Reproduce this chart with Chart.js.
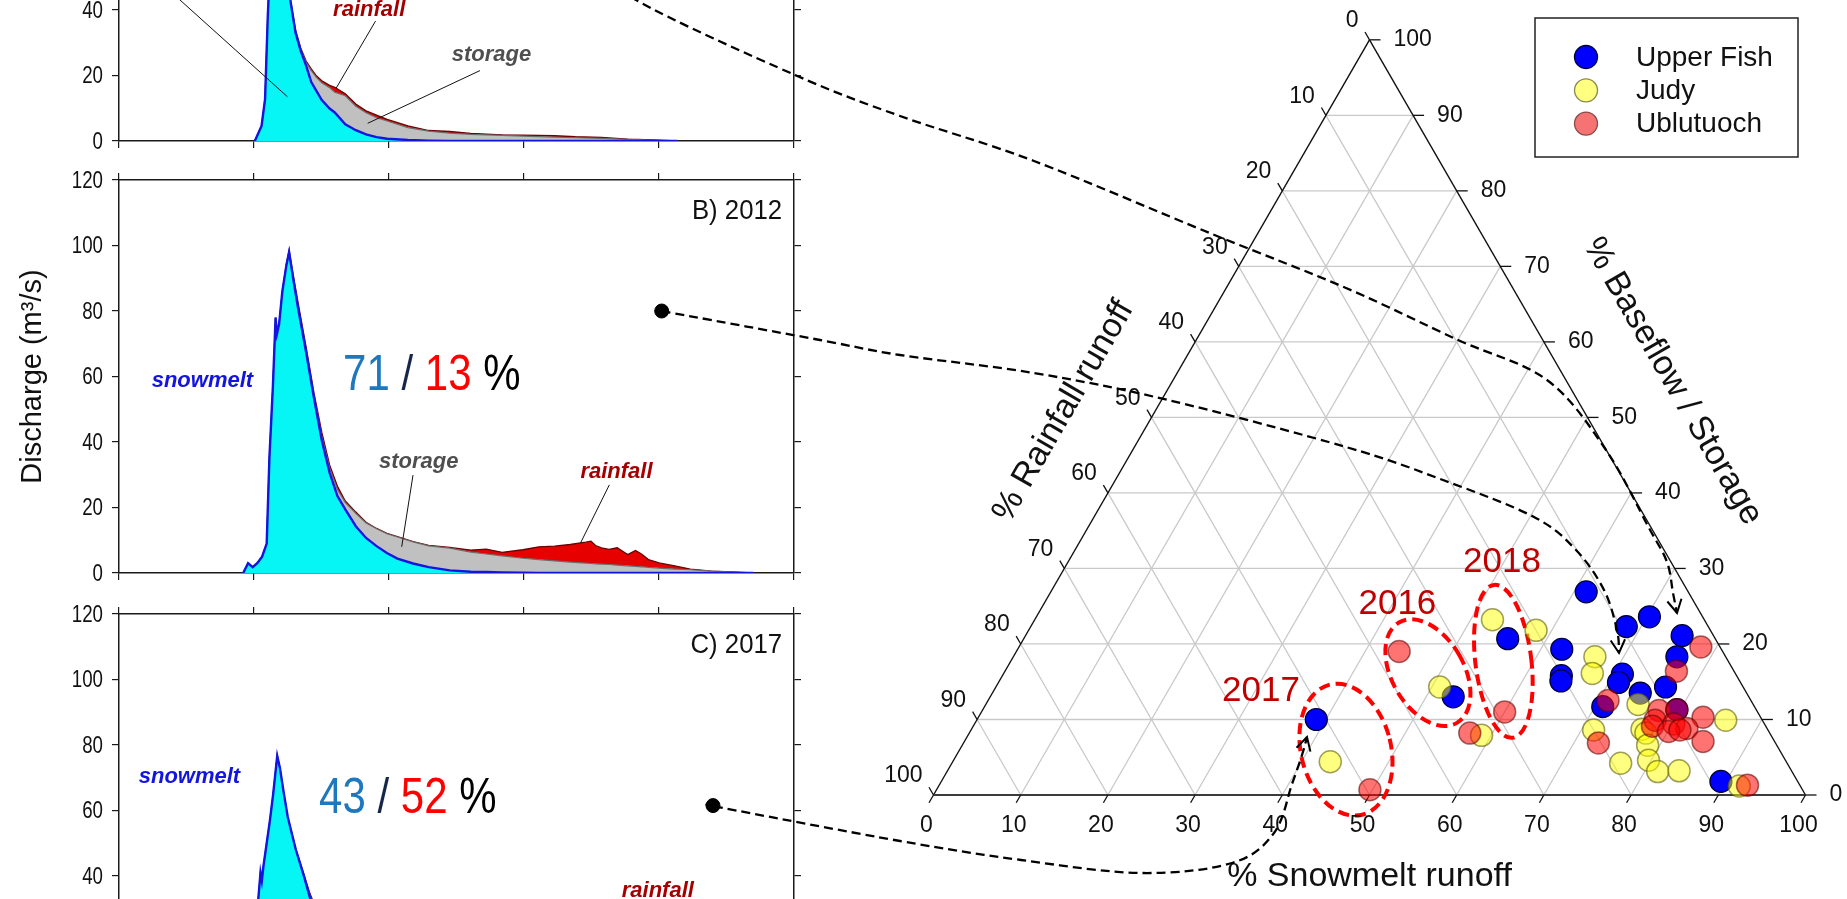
<!DOCTYPE html>
<html>
<head>
<meta charset="utf-8">
<title>Runoff components and ternary partition</title>
<script src="https://cdn.jsdelivr.net/npm/chart.js@4.4.1/dist/chart.umd.min.js"></script>
<style>
  html, body { margin: 0; padding: 0; background: #fff; }
  #page { position: relative; width: 1847px; height: 899px; overflow: hidden; background: #fff; }
  #page canvas { position: absolute; }
  #overlay { pointer-events: none; z-index: 10; }
</style>
</head>
<body>
<div id="page">
  <canvas id="panelA"></canvas>
  <canvas id="panelB"></canvas>
  <canvas id="panelC"></canvas>
  <canvas id="ternary"></canvas>
  <canvas id="overlay"></canvas>
</div>
<script>
// ---------------- Hydrograph data (day of year, discharge components in m3/s) ----------------
const DAYS_A = [150.3, 152.8, 154.1, 155.1, 156.0, 157.0, 158.0, 159.5, 161.0, 163.4, 165.4, 167.3, 169.3, 171.2,
  173.1, 175.1, 178.0, 179.9, 183.8, 187.7, 191.5, 195.4, 199.3, 207.0, 214.7, 222.5, 230.3, 241.9, 249.6, 261.3,
  269.0, 278.7, 288.4, 298.0, 306.8];
const SNOWMELT_A = [0, 4.6, 12.8, 38, 55, 64, 66, 62, 54, 43.3, 33, 27.5, 23, 18,
  15.3, 12.5, 9.9, 8.7, 5.1, 3.3, 2.0, 1.2, 0.7, 0.3, 0.1, 0, 0, 0, 0, 0,
  0, 0, 0, 0, 0];
const STORAGE_A = [0, 0, 0, 0, 0, 0, 0, 0, 0.1, 0.1, 0.5, 0.5, 1.0, 3.5,
  4.1, 5.3, 6.4, 6.2, 8.7, 7.3, 6.6, 5.9, 5.4, 3.8, 2.9, 2.4, 2.0, 1.7, 1.5, 1.2,
  1.0, 0.8, 0.5, 0.2, 0];
const RAINFALL_A = [0, 0, 0, 0, 0, 0, 0.2, 0.3, 0.3, 0.2, 0.3, 0.4, 0.4, 0.5,
  0.5, 0.6, 0.7, 1.5, 0.6, 0.7, 0.6, 0.8, 0.5, 0.5, 0.2, 0.5, 0.3, 0.2, 0.3, 0.4,
  0.3, 0.3, 0.1, 0.1, 0];

const DAYS_B = [146.0, 147.8, 149.5, 151.2, 153.0, 154.7, 155.7, 157.0, 158.0, 158.5, 159.3, 160.5, 162.0, 163.0,
  164.5, 166.3, 169.3, 172.2, 175.1, 178.0, 180.9, 183.8, 187.7, 191.5, 195.4, 199.2, 203.1, 208.9, 214.7, 222.5,
  230.3, 236.0, 241.9, 249.6, 255.5, 261.3, 267.1, 272.9, 274.8, 276.5, 278.7, 281.5, 284.5, 288.4, 291.3, 293.5,
  296.1, 300.0, 305.8, 311.6, 319.4, 327.0, 334.8];
const SNOWMELT_B = [0, 3, 1.8, 3, 5, 9, 35, 57, 78, 73, 76, 86, 94, 98,
  90, 81, 67.5, 53.5, 40.5, 30.6, 23.5, 19.4, 14.3, 10.7, 8.2, 6.1, 4.4, 2.9, 1.8, 0.8,
  0.4, 0.3, 0.2, 0.1, 0, 0, 0, 0, 0, 0, 0, 0, 0, 0, 0, 0,
  0, 0, 0, 0, 0, 0, 0];
const STORAGE_B = [0, 0, 0, 0, 0, 0, 0, 0, 0, 0, 0, 0, 0, 0,
  0, 0, 0.3, 0.5, 1.2, 1.4, 2.0, 2.1, 3.9, 4.6, 5.3, 5.9, 6.6, 6.6, 6.5, 6.8,
  6.0, 5.5, 5.0, 4.4, 4.1, 3.7, 3.3, 3.0, 2.9, 2.8, 2.7, 2.6, 2.4, 2.2, 2.0, 1.9,
  1.7, 1.5, 1.2, 1.0, 0.6, 0.3, 0];
const RAINFALL_B = [0, 0, 0, 0, 0, 0, 0, 0, 0, 0, 0, 0, 0.3, 0.5,
  1.0, 1.6, 1.2, 1.0, 1.3, 1.0, 1.0, 0.5, 0.4, 0.2, 0.1, 0.1, 0.1, 0.1, 0.1, 0.2,
  0.6, 1.5, 1.1, 2.6, 3.9, 4.5, 5.4, 6.4, 6.8, 5.6, 5.0, 4.6, 5.3, 3.4, 4.9, 3.9,
  2.4, 1.6, 1.0, 0.2, 0, 0, 0];

const DAYS_C = [148.0, 150.0, 151.6, 152.4, 152.9, 153.5, 154.7, 155.9, 157.1, 158.6, 159.6, 160.9, 162.5, 164.0,
  165.5, 167.0, 168.3, 169.5, 170.7, 173.0, 176.0, 180.0, 185.0, 190.0, 200.0, 215.0, 230.0, 245.0, 260.0, 270.0,
  280.0, 290.0, 300.0, 310.0, 320.0, 330.0];
const SNOWMELT_C = [0, 8, 33, 41, 38.5, 43, 50, 57, 65, 76.7, 73, 66, 58, 53,
  48, 44, 40.5, 37, 33.5, 27.5, 21, 14, 8, 5, 2, 0.5, 0.1, 0, 0, 0,
  0, 0, 0, 0, 0, 0];
const STORAGE_C = [0, 0, 0, 0, 0, 0, 0, 0, 0, 0, 0, 0, 0, 0,
  0, 0, 0.1, 0.3, 0.6, 1.2, 2, 3, 3.8, 4, 3.8, 3.2, 2.6, 2.1, 1.7, 1.5,
  1.3, 1.1, 0.8, 0.5, 0.2, 0];
const RAINFALL_C = [0, 0, 0, 0, 0, 0, 0, 0, 0, 0, 0, 0, 0, 0.1,
  0.2, 0.3, 0.4, 0.5, 0.6, 1.2, 2, 3, 4, 5, 6, 7, 9, 11, 14, 17,
  20, 24, 16, 6, 2, 0];

// Year markers that lead to the ternary diagram [day, discharge]
const MARKER_A = [270, 58];
const MARKER_B = [301, 80];
const MARKER_C = [320, 61.5];

const DISCHARGE_TICK_STEP = 20;
const DAY_TICK_STEP = 50;

// ---------------- Ternary data (% snowmelt, % rainfall, % baseflow/storage) ----------------
const UPPER_FISH_SNOW = [61.4, 70.3, 68.3, 75.3, 55.5, 62.4, 76.1, 71.0, 64.1, 64.4, 71.1, 76.8, 74.3, 70.9, 53.1, 89.4, 79.6, 38.9];
const UPPER_FISH_RAIN = [11.7, 6.1, 9.4, 3.6, 23.8, 18.3, 5.6, 13.0, 20.1, 20.5, 14.0, 8.9, 12.2, 17.4, 33.9, 8.8, 9.1, 51.1];
const UPPER_FISH_BASE = [26.9, 23.6, 22.3, 21.1, 20.7, 19.3, 18.3, 16.0, 15.8, 15.1, 14.9, 14.3, 13.5, 11.7, 13.0, 1.8, 11.3, 10.0];

const JUDY_SNOW = [52.5, 58.2, 66.7, 67.5, 50.9, 74.8, 85.9, 58.9, 71.4, 76.9, 77.6, 78.6, 76.7, 79.7, 81.5, 83.9, 91.8, 43.3];
const JUDY_RAIN = [24.3, 20.0, 15.0, 16.4, 34.8, 13.2, 4.2, 33.2, 20.0, 14.4, 14.2, 14.8, 19.1, 15.7, 15.4, 12.9, 7.0, 52.3];
const JUDY_BASE = [23.2, 21.8, 18.3, 16.1, 14.3, 12.0, 9.9, 7.9, 8.6, 8.7, 8.2, 6.6, 4.2, 4.6, 3.1, 3.2, 1.2, 4.4];

const UBLUTUOCH_SNOW = [78.2, 77.0, 71.1, 60.0, 57.4, 77.6, 79.6, 83.1, 77.8, 77.9, 80.2, 82.0, 80.1, 81.3, 84.7, 72.8, 92.7, 43.9, 49.7];
const UBLUTUOCH_RAIN = [2.2, 6.6, 16.4, 29.0, 34.4, 11.2, 9.1, 6.6, 12.3, 13.0, 10.4, 9.2, 11.5, 10.1, 8.2, 20.3, 6.0, 37.1, 49.6];
const UBLUTUOCH_BASE = [19.6, 16.4, 12.5, 11.0, 8.2, 11.2, 11.3, 10.3, 9.9, 9.1, 9.4, 8.8, 8.4, 8.6, 7.1, 6.9, 1.3, 19.0, 0.7];

const TERNARY_TICKS = [0, 10, 20, 30, 40, 50, 60, 70, 80, 90, 100];

// ---------------- Fonts and layout ----------------
const SANS = "'Liberation Sans', Arial, sans-serif";

const PANEL = { width: 830, left: 119, right: 794, plotH: 393, pad: 20 };
const PANEL_TOP = { A: -252, B: 180, C: 614 };   // page y of the 120 m3/s line

const TERN_CANVAS = { left: 830, width: 1017, height: 899 };
const TRI = { left: 103.5, width: 872, base: 795 };   // triangle placement inside its canvas
const TRI_H = TRI.width * Math.sqrt(3) / 2;

const SNOW_COLOR = '#1414e0';
const STORE_COLOR = '#4f4f4f';
const RAIN_COLOR = '#a50000';

// Condensed (narrow) text: regular face squeezed horizontally
function narrowText(ctx, text, x, y, align, squeeze) {
  ctx.save();
  ctx.translate(x, y);
  ctx.scale(squeeze, 1);
  ctx.textAlign = align;
  ctx.fillText(text, 0, 0);
  ctx.restore();
}

// ---------------- Hydrograph panels ----------------
function notesPlugin(notes) {
  return {
    id: 'panelNotes',
    afterDatasetsDraw(chart) {
      const { ctx } = chart;
      const x = chart.scales.x, y = chart.scales.y;
      ctx.save();
      // discharge tick labels in a narrow face
      ctx.font = '24px ' + SANS;
      ctx.fillStyle = '#111';
      ctx.textBaseline = 'middle';
      y.ticks.forEach(t => {
        narrowText(ctx, String(t.value), chart.chartArea.left - 16, y.getPixelForValue(t.value) + 1, 'right', 0.78);
      });
      ctx.strokeStyle = '#111';
      ctx.lineWidth = 1;
      (notes.leaders || []).forEach(([d1, v1, d2, v2]) => {
        ctx.beginPath();
        ctx.moveTo(x.getPixelForValue(d1), y.getPixelForValue(v1));
        ctx.lineTo(x.getPixelForValue(d2), y.getPixelForValue(v2));
        ctx.stroke();
      });
      ctx.textBaseline = 'alphabetic';
      (notes.texts || []).forEach(n => {
        ctx.font = n.font;
        ctx.fillStyle = n.color;
        narrowText(ctx, n.t, x.getPixelForValue(n.d), y.getPixelForValue(n.v), n.align || 'left', n.squeeze || 1);
      });
      if (notes.share) {
        const s = notes.share;
        ctx.font = s.font;
        let px = x.getPixelForValue(s.d);
        const py = y.getPixelForValue(s.v);
        s.parts.forEach(p => {
          ctx.fillStyle = p.c;
          narrowText(ctx, p.t, px, py, 'left', s.squeeze);
          px += ctx.measureText(p.t).width * s.squeeze;
        });
      }
      ctx.restore();
    }
  };
}

function frameAxis(position, extra) {
  const horizontal = position === 'top' || position === 'bottom';
  return Object.assign({
    type: 'linear',
    position,
    min: horizontal ? 100 : 0,
    max: horizontal ? 350 : 120,
    ticks: { display: false, stepSize: horizontal ? DAY_TICK_STEP : DISCHARGE_TICK_STEP },
    grid: { drawOnChartArea: false, drawTicks: true, tickLength: 7, color: '#1a1a1a', lineWidth: 1.2 },
    border: { display: true, color: '#1a1a1a', width: 1.5 },
    afterFit(scale) {
      if (horizontal) scale.height = PANEL.pad;
      else scale.width = position === 'left' ? PANEL.left : PANEL.width - PANEL.right;
    }
  }, extra || {});
}

function makePanel(id, top, days, snow, store, rain, marker, notes, withTitle) {
  const cv = document.getElementById(id);
  cv.width = PANEL.width;
  cv.height = PANEL.plotH + 2 * PANEL.pad;
  cv.style.left = '0px';
  cv.style.top = (top - PANEL.pad) + 'px';
  const yAxis = frameAxis('left', {
    stacked: true,
    title: { display: !!withTitle, text: 'Discharge (m³/s)', color: '#111',
             padding: { top: 16, bottom: 0 }, font: { family: SANS, size: 29 } }
  });
  return new Chart(cv, {
    type: 'line',
    data: {
      labels: days,
      datasets: [
        { label: 'snowmelt', data: snow, fill: 'origin', backgroundColor: '#06f6f6',
          borderColor: SNOW_COLOR, borderWidth: 2.4, pointRadius: 0, tension: 0 },
        { label: 'storage', data: store, fill: '-1', backgroundColor: '#c0c0c0',
          borderColor: '#6c6c6c', borderWidth: 1.2, pointRadius: 0, tension: 0 },
        { label: 'rainfall', data: rain, fill: '-1', backgroundColor: '#e60000',
          borderColor: '#6e0000', borderWidth: 1.3, pointRadius: 0, tension: 0 },
        { label: 'year', data: [{ x: marker[0], y: marker[1] }], yAxisID: 'y2', showLine: false,
          fill: false, pointRadius: 7, pointBackgroundColor: '#000', pointBorderColor: '#000' }
      ]
    },
    options: {
      responsive: false,
      animation: false,
      devicePixelRatio: 1,
      events: [],
      layout: { padding: 0, autoPadding: false },
      plugins: { legend: { display: false }, tooltip: { enabled: false } },
      scales: {
        x: frameAxis('bottom'),
        x2: frameAxis('top'),
        y: yAxis,
        y2: frameAxis('right')
      }
    },
    plugins: [notesPlugin(notes)]
  });
}

const LABEL_FONT = 'italic bold 22px ' + SANS;
const TAG_FONT = '28px ' + SANS;
const SHARE_FONT = '50px ' + SANS;

const chartA = makePanel('panelA', PANEL_TOP.A, DAYS_A, SNOWMELT_A, STORAGE_A, RAINFALL_A, MARKER_A, {
  texts: [
    { t: 'rainfall', d: 179.3, v: 38.2, font: LABEL_FONT, color: RAIN_COLOR },
    { t: 'storage', d: 223.2, v: 24.4, font: LABEL_FONT, color: STORE_COLOR }
  ],
  leaders: [[195, 36.6, 180.4, 16.1], [233.7, 21.5, 192.1, 5.4], [118.9, 45.8, 162.4, 13.5]]
});

const chartB = makePanel('panelB', PANEL_TOP.B, DAYS_B, SNOWMELT_B, STORAGE_B, RAINFALL_B, MARKER_B, {
  texts: [
    { t: 'B) 2012', d: 345.6, v: 108, font: TAG_FONT, color: '#111', align: 'right', squeeze: 0.92 },
    { t: 'snowmelt', d: 112.1, v: 56.9, font: LABEL_FONT, color: SNOW_COLOR },
    { t: 'storage', d: 196.3, v: 32.0, font: LABEL_FONT, color: STORE_COLOR },
    { t: 'rainfall', d: 270.9, v: 28.9, font: LABEL_FONT, color: RAIN_COLOR }
  ],
  leaders: [[208.9, 29.9, 204.7, 8.0], [281.6, 26.9, 270.9, 9.1]],
  share: { d: 183.0, v: 55.9, font: SHARE_FONT, squeeze: 0.84, parts: [
    { t: '71', c: '#1e78be' }, { t: ' / ', c: '#15264a' }, { t: '13', c: '#ff0000' }, { t: ' %', c: '#000' }] }
}, true);

const chartC = makePanel('panelC', PANEL_TOP.C, DAYS_C, SNOWMELT_C, STORAGE_C, RAINFALL_C, MARKER_C, {
  texts: [
    { t: 'C) 2017', d: 345.6, v: 108, font: TAG_FONT, color: '#111', align: 'right', squeeze: 0.92 },
    { t: 'snowmelt', d: 107.3, v: 68.3, font: LABEL_FONT, color: SNOW_COLOR },
    { t: 'rainfall', d: 286.2, v: 33.7, font: LABEL_FONT, color: RAIN_COLOR }
  ],
  leaders: [],
  share: { d: 174.1, v: 59.2, font: SHARE_FONT, squeeze: 0.84, parts: [
    { t: '43', c: '#1e78be' }, { t: ' / ', c: '#15264a' }, { t: '52', c: '#ff0000' }, { t: ' %', c: '#000' }] }
});

// ---------------- Ternary diagram ----------------
function toCartesian(snow, rain, base) {
  return snow.map((s, i) => {
    const total = s + rain[i] + base[i];
    return { x: (s + base[i] / 2) / total * 100, y: base[i] / total * 100 };
  });
}

// Dashed groupings of the three highlighted years, centred in (snowmelt, baseflow) space
const YEAR_RINGS = [
  { s: 44.3, b: 6.0, rx: 45, ry: 67, rot: -14 },
  { s: 48.6, b: 16.2, rx: 36, ry: 58, rot: -30 },
  { s: 56.5, b: 17.7, rx: 28, ry: 77, rot: -7 }
];
const YEAR_TAGS = [
  { t: '2017', s: 30.7, b: 13.7 },
  { t: '2016', s: 40.6, b: 25.2 },
  { t: '2018', s: 49.8, b: 30.8 }
];

const ternaryPlugin = {
  id: 'ternaryFrame',
  beforeDatasetsDraw(chart) {
    const { ctx } = chart;
    const P = (s, b) => ({ x: chart.scales.x.getPixelForValue(s + b / 2), y: chart.scales.y.getPixelForValue(b) });
    const seg = (a, b) => { ctx.beginPath(); ctx.moveTo(a.x, a.y); ctx.lineTo(b.x, b.y); ctx.stroke(); };
    ctx.save();
    // grid
    ctx.strokeStyle = '#c9c9c9';
    ctx.lineWidth = 1.3;
    TERNARY_TICKS.slice(1, -1).forEach(v => {
      seg(P(0, v), P(100 - v, v));          // constant baseflow
      seg(P(v, 0), P(v, 100 - v));          // constant snowmelt
      seg(P(100 - v, 0), P(0, 100 - v));    // constant rainfall
    });
    // edges
    ctx.strokeStyle = '#111';
    ctx.lineWidth = 1.4;
    seg(P(0, 0), P(0, 100));
    seg(P(0, 100), P(100, 0));
    ctx.strokeStyle = '#3c3c3c';
    ctx.lineWidth = 2;
    seg(P(0, 0), P(100, 0));
    // ticks
    ctx.strokeStyle = '#111';
    ctx.lineWidth = 1.3;
    const k = 9;
    TERNARY_TICKS.forEach(v => {
      const b = P(v, 0);
      seg(b, { x: b.x - 0.5 * k, y: b.y + 0.866 * k });
      const l = P(0, 100 - v);
      seg(l, { x: l.x - 0.5 * k, y: l.y - 0.866 * k });
      const r = P(100 - v, v);
      seg(r, { x: r.x + 11, y: r.y });
    });
    // year groupings
    ctx.strokeStyle = '#ff0000';
    ctx.lineWidth = 4;
    ctx.setLineDash([11, 6]);
    YEAR_RINGS.forEach(e => {
      const c = P(e.s, e.b);
      ctx.beginPath();
      ctx.ellipse(c.x, c.y, e.rx, e.ry, e.rot * Math.PI / 180, 0, Math.PI * 2);
      ctx.stroke();
    });
    ctx.restore();
  },
  afterDatasetsDraw(chart) {
    const { ctx } = chart;
    const P = (s, b) => ({ x: chart.scales.x.getPixelForValue(s + b / 2), y: chart.scales.y.getPixelForValue(b) });
    ctx.save();
    // tick labels
    ctx.fillStyle = '#111';
    ctx.font = '23px ' + SANS;
    TERNARY_TICKS.forEach(v => {
      const b = P(v, 0);
      ctx.textAlign = 'center'; ctx.textBaseline = 'top';
      ctx.fillText(String(v), b.x - 7, b.y + 19);
      const l = P(0, 100 - v);
      ctx.textAlign = 'right'; ctx.textBaseline = 'middle';
      ctx.fillText(String(v), l.x - 11, l.y - 19);
      const r = P(100 - v, v);
      ctx.textAlign = 'left'; ctx.textBaseline = 'middle';
      ctx.fillText(String(v), r.x + 24, r.y);
    });
    // axis titles
    ctx.font = '34px ' + SANS;
    ctx.textAlign = 'center'; ctx.textBaseline = 'middle';
    const bottom = P(50, 0);
    ctx.fillText('% Snowmelt runoff', bottom.x, bottom.y + 82);
    const leftMid = P(0, 50);
    ctx.save();
    ctx.translate(leftMid.x - 88, leftMid.y - 6);
    ctx.rotate(-Math.PI / 3);
    ctx.fillText('% Rainfall runoff', 0, 0);
    ctx.restore();
    const rightMid = P(50, 50);
    ctx.save();
    ctx.translate(rightMid.x + 85, rightMid.y - 36);
    ctx.rotate(Math.PI / 3);
    ctx.fillText('% Baseflow / Storage', 0, 0);
    ctx.restore();
    // year tags
    ctx.font = '35px ' + SANS;
    ctx.fillStyle = '#c00000';
    YEAR_TAGS.forEach(t => {
      const p = P(t.s, t.b);
      ctx.fillText(t.t, p.x, p.y);
    });
    // legend
    const box = { x: 705, y: 18, w: 263, h: 139 };
    ctx.fillStyle = '#fff';
    ctx.fillRect(box.x, box.y, box.w, box.h);
    ctx.strokeStyle = '#222';
    ctx.lineWidth = 1.5;
    ctx.strokeRect(box.x, box.y, box.w, box.h);
    ctx.font = '28px ' + SANS;
    ctx.textAlign = 'left'; ctx.textBaseline = 'middle';
    chart.data.datasets.forEach((ds, i) => {
      const cy = box.y + 39 + i * 33.3;
      ctx.beginPath();
      ctx.arc(box.x + 51, cy, 11.5, 0, Math.PI * 2);
      ctx.fillStyle = ds.legendFill;
      ctx.fill();
      ctx.lineWidth = 1.3;
      ctx.strokeStyle = ds.legendEdge;
      ctx.stroke();
      ctx.fillStyle = '#111';
      ctx.fillText(ds.label, box.x + 101, cy + 1);
    });
    ctx.restore();
  }
};

const ternCanvas = document.getElementById('ternary');
ternCanvas.width = TERN_CANVAS.width;
ternCanvas.height = TERN_CANVAS.height;
ternCanvas.style.left = TERN_CANVAS.left + 'px';
ternCanvas.style.top = '0px';

const ternaryChart = new Chart(ternCanvas, {
  type: 'scatter',
  data: {
    datasets: [
      { label: 'Upper Fish', data: toCartesian(UPPER_FISH_SNOW, UPPER_FISH_RAIN, UPPER_FISH_BASE), order: 2,
        pointRadius: 11, backgroundColor: '#0000ff', borderColor: '#000030', borderWidth: 1.2,
        legendFill: '#0000ff', legendEdge: '#000030' },
      { label: 'Judy', data: toCartesian(JUDY_SNOW, JUDY_RAIN, JUDY_BASE), order: 1,
        pointRadius: 11, backgroundColor: 'rgba(255,255,0,0.5)', borderColor: 'rgba(80,80,0,0.55)', borderWidth: 1.5,
        legendFill: '#ffff80', legendEdge: '#8a8a50' },
      { label: 'Ublutuoch', data: toCartesian(UBLUTUOCH_SNOW, UBLUTUOCH_RAIN, UBLUTUOCH_BASE), order: 0,
        pointRadius: 11, backgroundColor: 'rgba(255,0,0,0.55)', borderColor: 'rgba(90,0,0,0.55)', borderWidth: 1.5,
        legendFill: '#f57373', legendEdge: '#8a4a4a' }
    ]
  },
  options: {
    responsive: false,
    animation: false,
    devicePixelRatio: 1,
    events: [],
    layout: { padding: 0, autoPadding: false },
    plugins: { legend: { display: false }, tooltip: { enabled: false } },
    scales: {
      x: { type: 'linear', display: false,
           min: -TRI.left / TRI.width * 100, max: (TERN_CANVAS.width - TRI.left) / TRI.width * 100 },
      y: { type: 'linear', display: false,
           min: -(TERN_CANVAS.height - TRI.base) / TRI_H * 100, max: TRI.base / TRI_H * 100 }
    }
  },
  plugins: [ternaryPlugin]
});

// ---------------- Dashed leaders from each year to its ternary point ----------------
function markerPixel(chart, canvasId, marker) {
  const cv = document.getElementById(canvasId);
  return [chart.scales.x.getPixelForValue(marker[0]) + cv.offsetLeft,
          chart.scales.y2.getPixelForValue(marker[1]) + cv.offsetTop];
}

const LEADER_PATHS = [
  { from: ['panelA', MARKER_A], via: [[636, 0], [795, 75], [900, 116], [1034, 161], [1212, 234], [1346, 288],
      [1458, 340], [1547, 380], [1606, 450], [1649, 528], [1667, 562], [1673, 593], [1677, 613]] },
  { from: ['panelB', MARKER_B], via: [[820, 340], [900, 355], [1034, 373], [1168, 400], [1346, 447],
      [1443, 480], [1534, 517], [1576, 550], [1604, 590], [1617, 630], [1619, 653]] },
  { from: ['panelC', MARKER_C], via: [[723, 808], [900, 841], [1021, 860], [1141, 873], [1232, 863],
      [1274, 833], [1292, 784], [1302, 755], [1307, 737]] }
];

(function drawLeaders() {
  const ov = document.getElementById('overlay');
  ov.width = 1847; ov.height = 899;
  ov.style.left = '0px'; ov.style.top = '0px';
  const ctx = ov.getContext('2d');
  const charts = { panelA: chartA, panelB: chartB, panelC: chartC };
  ctx.strokeStyle = '#000';
  ctx.lineCap = 'butt';
  LEADER_PATHS.forEach(path => {
    const start = markerPixel(charts[path.from[0]], path.from[0], path.from[1]);
    const pts = [start].concat(path.via);
    ctx.lineWidth = 2.3;
    ctx.setLineDash([9, 5]);
    ctx.beginPath();
    ctx.moveTo(pts[0][0], pts[0][1]);
    for (let i = 0; i < pts.length - 1; i++) {
      const p0 = pts[i - 1] || pts[i], p1 = pts[i], p2 = pts[i + 1], p3 = pts[i + 2] || p2;
      ctx.bezierCurveTo(p1[0] + (p2[0] - p0[0]) / 6, p1[1] + (p2[1] - p0[1]) / 6,
                        p2[0] - (p3[0] - p1[0]) / 6, p2[1] - (p3[1] - p1[1]) / 6, p2[0], p2[1]);
    }
    ctx.stroke();
    // open arrow head
    const tip = pts[pts.length - 1], prev = pts[pts.length - 2];
    const ang = Math.atan2(tip[1] - prev[1], tip[0] - prev[0]);
    const len = 15, spread = 0.5;
    ctx.setLineDash([]);
    ctx.lineWidth = 2;
    ctx.beginPath();
    ctx.moveTo(tip[0] - len * Math.cos(ang - spread), tip[1] - len * Math.sin(ang - spread));
    ctx.lineTo(tip[0], tip[1]);
    ctx.lineTo(tip[0] - len * Math.cos(ang + spread), tip[1] - len * Math.sin(ang + spread));
    ctx.stroke();
  });
})();
</script>
</body>
</html>
